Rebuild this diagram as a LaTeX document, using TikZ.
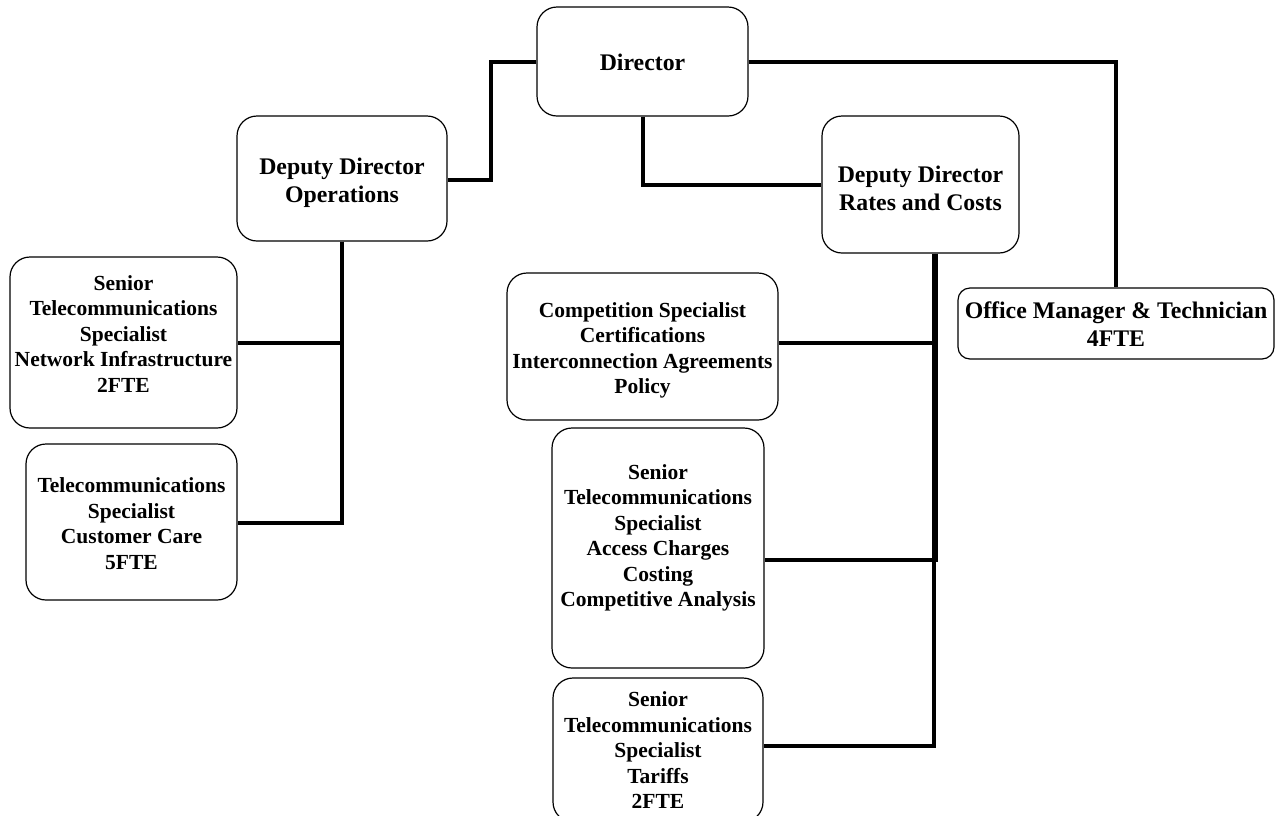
\documentclass[tikz,border=0pt]{standalone}
\usepackage{fontspec}
\setmainfont{Liberation Serif}
\newcommand{\rows}[2]{\raisebox{#1}[\height][\depth]{\begin{tabular}{@{}c@{}}#2\end{tabular}}}
\begin{document}
\begin{tikzpicture}[x=1pt,y=-1pt,
  box/.style={draw=black,line width=1.2pt,rounded corners=20pt,fill=white,align=center,
    inner sep=0pt,font=\fontsize{21.5}{25.5}\selectfont\bfseries},
  bigbox/.style={box,font=\fontsize{23.8}{28}\selectfont\bfseries},
  conn/.style={draw=black,line width=4pt}]
\useasboundingbox (0,0) rectangle (1280,815);
\clip (0,0) rectangle (1280,815);
\fill[white] (0,0) rectangle (1280,815);
% nodes
\node[bigbox,minimum width=211pt,minimum height=109pt] (dir) at (642.5,61.5) {\rows{-3pt}{Director}};
\node[bigbox,minimum width=210pt,minimum height=125pt] (ops) at (342,178.5) {\rows{-4pt}{Deputy Director\\Operations}};
\node[bigbox,minimum width=197pt,minimum height=137pt] (rates) at (920.5,184.5) {\rows{-6.5pt}{Deputy Director\\Rates and Costs}};
\node[bigbox,rounded corners=12pt,minimum width=316pt,minimum height=71pt] (office) at (1116,323.5) {\rows{-3pt}{Office Manager \& Technician\\4FTE}};
\node[box,minimum width=227pt,minimum height=171pt] (snet) at (123.5,342.5) {\rows{6.5pt}{Senior\\Telecommunications\\Specialist\\Network Infrastructure\\2FTE}};
\node[box,minimum width=211pt,minimum height=156pt] (cc) at (131.5,522) {\rows{-4pt}{Telecommunications\\Specialist\\Customer Care\\5FTE}};
\node[box,minimum width=271pt,minimum height=147pt] (comp) at (642.5,346.5) {\rows{-4pt}{Competition Specialist\\Certifications\\Interconnection Agreements\\Policy}};
\node[box,minimum width=212pt,minimum height=240pt] (acc) at (658,548) {\rows{10pt}{Senior\\Telecommunications\\Specialist\\Access Charges\\Costing\\Competitive Analysis}};
\node[box,minimum width=210pt,minimum height=144pt] (tar) at (658,750) {\rows{-2.5pt}{Senior\\Telecommunications\\Specialist\\Tariffs\\2FTE}};
% connectors
\draw[conn] (dir.west) -- ++(-45,0) |- ([yshift=-1.5pt]ops.east);
\draw[conn] (dir.south) |- (rates.west);
\draw[conn] (dir.east) -| (office.north);
\draw[conn] (ops.south) |- (snet.east);
\draw[conn] (ops.south) |- ([yshift=-1pt]cc.east);
\draw[conn] ([xshift=15pt]rates.south) |- ([yshift=3.5pt]comp.east);
\draw[conn] ([xshift=15pt]rates.south) |- ([yshift=-12pt]acc.east);
\draw[conn] ([xshift=13.5pt]rates.south) |- ([yshift=4pt]tar.east);
\end{tikzpicture}
\end{document}
